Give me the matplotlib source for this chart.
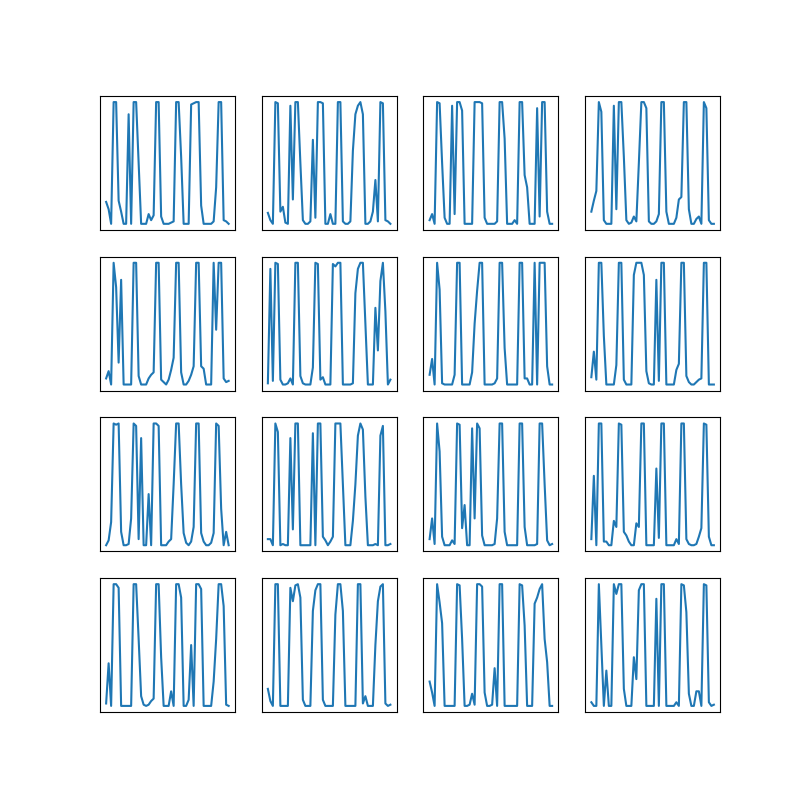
import matplotlib
matplotlib.use("Agg")
import matplotlib.pyplot as plt

# one list per panel, row by row
p1 = [0.18, 0.12, 0.0, 1, 1, 0.19, 0.1, 0.0, 0.0, 0.9,
      0.0, 1, 1, 0.5, 0.0, 0.0, 0.0, 0.08, 0.03, 0.07,
      1, 1, 0.06, 0.0, 0.0, 0.0, 0.01, 0.02, 1, 1,
      0.55, 0.0, 0.0, 0.0, 0.98, 0.99, 1, 1, 0.15, 0.0,
      0.0, 0.0, 0.0, 0.02, 0.3, 1, 1, 0.03, 0.02, 0.0]
p2 = [0.09, 0.03, 0.0, 1, 0.99, 0.1, 0.14, 0.01, 0.0, 0.97,
      0.2, 1, 1, 0.5, 0.03, 0.0, 0.0, 0.02, 0.69, 0.05,
      1, 1, 0.99, 0.0, 0.0, 0.08, 0.0, 0.0, 1, 1,
      0.02, 0.0, 0.0, 0.02, 0.6, 0.9, 0.97, 1, 0.9, 0.0,
      0.0, 0.02, 0.1, 0.36, 0.02, 1, 0.99, 0.03, 0.02, 0.0]
p3 = [0.03, 0.08, 0.0, 1, 0.99, 0.5, 0.05, 0.0, 0.0, 0.97,
      0.08, 1, 1, 0.93, 0.0, 0.0, 0.0, 0.0, 1, 1,
      1, 0.99, 0.05, 0.0, 0.0, 0.0, 0.0, 0.02, 1, 1,
      0.7, 0.0, 0.0, 0.0, 0.03, 0.0, 1, 1, 0.4, 0.3,
      0.0, 0.0, 0.0, 0.95, 0.06, 1, 1, 0.1, 0.0, 0.0]
p4 = [0.1, 0.19, 0.27, 1, 0.92, 0.03, 0.0, 0.0, 0.0, 0.97,
      0.12, 1, 1, 0.55, 0.03, 0.0, 0.01, 0.06, 0.02, 0.5,
      1, 1, 0.95, 0.02, 0.0, 0.0, 0.02, 0.08, 1, 1,
      0.1, 0.0, 0.0, 0.0, 0.05, 0.2, 0.22, 1, 1, 0.12,
      0.0, 0.0, 0.04, 0.06, 0.0, 1, 0.95, 0.03, 0.0, 0.0]
p5 = [0.05, 0.11, 0.0, 1, 0.8, 0.18, 0.86, 0.0, 0.0, 0.0,
      0.0, 1, 1, 0.07, 0.0, 0.0, 0.0, 0.05, 0.08, 0.1,
      1, 1, 0.04, 0.02, 0.0, 0.04, 0.12, 0.22, 1, 1,
      0.1, 0.0, 0.0, 0.03, 0.08, 0.15, 1, 1, 0.15, 0.13,
      0.0, 0.0, 0.0, 1, 0.45, 1, 1, 0.05, 0.02, 0.03]
p6 = [0.01, 0.95, 0.03, 1, 0.99, 0.04, 0.0, 0.0, 0.01, 0.05,
      0.0, 1, 1, 0.07, 0.01, 0.0, 0.0, 0.0, 0.14, 1,
      0.99, 0.04, 0.06, 0.0, 0.0, 0.0, 0.99, 0.97, 1, 1,
      0.0, 0.0, 0.0, 0.0, 0.01, 0.75, 0.95, 1, 1, 0.5,
      0.0, 0.0, 0.0, 0.63, 0.28, 0.85, 1, 0.6, 0.0, 0.04]
p7 = [0.08, 0.21, 0.0, 1, 0.78, 0.01, 0.0, 0.0, 0.0, 0.0,
      0.08, 1, 1, 0.0, 0.0, 0.0, 0.0, 0.1, 0.5, 0.77,
      1, 1, 0.0, 0.0, 0.0, 0.0, 0.01, 0.05, 1, 1,
      0.3, 0.0, 0.0, 0.0, 0.0, 0.0, 1, 1, 0.05, 0.05,
      0.0, 0.0, 1, 0.0, 1, 1, 1, 0.15, 0.0, 0.0]
p8 = [0.06, 0.27, 0.04, 1, 1, 0.4, 0.0, 0.0, 0.0, 0.0,
      0.16, 1, 1, 0.04, 0.0, 0.0, 0.0, 0.9, 1, 1,
      1, 0.9, 0.11, 0.01, 0.0, 0.0, 0.86, 0.03, 1, 1,
      0.0, 0.0, 0.0, 0.0, 0.12, 0.17, 1, 1, 0.07, 0.02,
      0.0, 0.0, 0.02, 0.04, 0.05, 1, 1, 0.0, 0.0, 0.0]
p9 = [0.0, 0.04, 0.19, 1, 0.99, 1, 0.11, 0.0, 0.0, 0.01,
      0.22, 1, 0.98, 0.05, 0.88, 0.0, 0.0, 0.42, 0.0, 1,
      1, 0.98, 0.0, 0.0, 0.0, 0.03, 0.05, 0.5, 1, 1,
      0.5, 0.1, 0.02, 0.0, 0.03, 0.15, 1, 1, 0.1, 0.03,
      0.0, 0.0, 0.02, 0.1, 1, 0.98, 0.3, 0.0, 0.11, 0.0]
p10 = [0.05, 0.05, 0.0, 1, 0.93, 0.0, 0.01, 0.0, 0.0, 0.88,
       0.13, 1, 1, 0.0, 0.0, 0.0, 0.0, 0.0, 0.92, 0.0,
       1, 1, 0.07, 0.04, 0.0, 0.03, 0.07, 1, 1, 1,
       0.5, 0.0, 0.0, 0.0, 0.2, 0.5, 0.9, 1, 0.95, 0.4,
       0.0, 0.0, 0.0, 0.01, 0.0, 0.9, 0.98, 0.0, 0.0, 0.01]
p11 = [0.05, 0.22, 0.01, 1, 0.77, 0.07, 0.0, 0.0, 0.0, 0.04,
       0.01, 1, 0.99, 0.14, 0.33, 0.0, 0.0, 0.96, 0.22, 1,
       0.96, 0.08, 0.0, 0.0, 0.0, 0.0, 0.01, 0.22, 1, 1,
       0.11, 0.0, 0.0, 0.0, 0.0, 0.0, 1, 1, 0.15, 0.0,
       0.0, 0.0, 0.0, 0.01, 1, 1, 0.5, 0.04, 0.0, 0.01]
p12 = [0.05, 0.57, 0.0, 1, 1, 0.03, 0.03, 0.0, 0.0, 0.2,
       0.15, 1, 0.99, 0.11, 0.08, 0.03, 0.0, 0.0, 0.18, 0.15,
       1, 1, 0.0, 0.0, 0.0, 0.0, 0.63, 0.06, 1, 1,
       0.0, 0.0, 0.0, 0.0, 0.05, 0.01, 1, 1, 0.05, 0.01,
       0.0, 0.0, 0.01, 0.07, 0.14, 1, 0.99, 0.07, 0.0, 0.0]
p13 = [0.02, 0.35, 0.0, 1, 1, 0.97, 0.0, 0.0, 0.0, 0.0,
       0.0, 1, 1, 0.55, 0.08, 0.01, 0.0, 0.01, 0.04, 0.06,
       1, 1, 0.4, 0.0, 0.0, 0.0, 0.12, 0.0, 1, 1,
       0.89, 0.0, 0.0, 0.05, 0.5, 0.0, 1, 1, 0.96, 0.0,
       0.0, 0.0, 0.0, 0.2, 0.55, 1, 1, 0.82, 0.01, 0.0]
p14 = [0.14, 0.04, 0.0, 1, 1, 0.0, 0.0, 0.0, 0.0, 0.97,
       0.86, 0.99, 1, 0.89, 0.05, 0.0, 0.0, 0.0, 0.78, 0.95,
       1, 1, 0.05, 0.0, 0.0, 0.0, 0.0, 0.75, 1, 1,
       0.78, 0.0, 0.0, 0.0, 0.0, 0.0, 1, 1, 0.02, 0.08,
       0.0, 0.0, 0.0, 0.5, 0.86, 0.98, 1, 0.02, 0.0, 0.01]
p15 = [0.2, 0.11, 0.0, 1, 0.85, 0.68, 0.0, 0.0, 0.0, 0.0,
       0.0, 1, 0.99, 0.55, 0.0, 0.0, 0.01, 0.1, 0.01, 1,
       1, 0.98, 0.11, 0.0, 0.0, 0.01, 0.31, 0.0, 1, 1,
       0.0, 0.0, 0.0, 0.0, 0.0, 0.0, 1, 0.99, 0.66, 0.0,
       0.0, 0.0, 0.84, 0.89, 0.96, 1, 0.55, 0.36, 0.0, 0.0]
p16 = [0.03, 0.0, 0.0, 1, 0.5, 0.0, 0.29, 0.0, 0.0, 1,
       0.92, 1, 1, 0.14, 0.0, 0.0, 0.0, 0.4, 0.22, 0.95,
       1, 1, 0.0, 0.0, 0.0, 0.0, 0.88, 0.0, 1, 1,
       0.0, 0.0, 0.0, 0.0, 0.03, 0.0, 1, 0.99, 0.77, 0.1,
       0.0, 0.0, 0.12, 0.12, 0.0, 1, 0.99, 0.03, 0.0, 0.01]

panels = [p1, p2, p3, p4, p5, p6, p7, p8,
          p9, p10, p11, p12, p13, p14, p15, p16]

fig, axes = plt.subplots(4, 4, figsize=(8, 8), dpi=100)
for ax, y in zip(axes.flat, panels):
    ax.plot(y)
    ax.set_xticks([])
    ax.set_yticks([])

fig.savefig("out.png")
